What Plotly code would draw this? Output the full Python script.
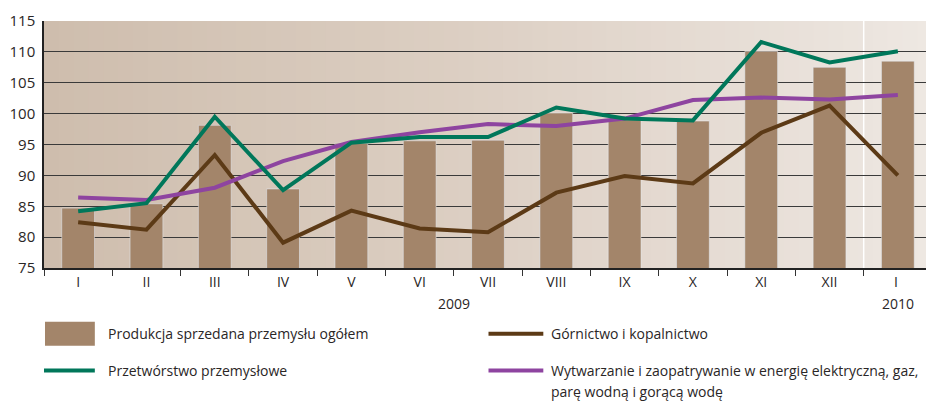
import plotly.graph_objects as go

months = ["I", "II", "III", "IV", "V", "VI", "VII", "VIII", "IX", "X", "XI", "XII", "I "]
years = ["2009", "2010"]
ogolem = [84.7, 85.4, 98.1, 87.8, 95.2, 95.6, 95.7, 100.1, 99.0, 98.8, 110.1, 107.5, 108.5]
przetworstwo = [84.2, 85.5, 99.5, 87.6, 95.3, 96.2, 96.2, 101.0, 99.2, 98.9, 111.6, 108.3, 110.1]
gornictwo = [82.4, 81.2, 93.3, 79.1, 84.3, 81.4, 80.8, 87.2, 89.9, 88.7, 96.9, 101.3, 90.0]
energia = [86.4, 86.0, 88.0, 92.3, 95.4, 97.0, 98.3, 98.0, 99.2, 102.2, 102.6, 102.3, 103.0]
names = ["Produkcja sprzedana przemysłu ogółem",
         "Przetwórstwo przemysłowe",
         "Górnictwo i kopalnictwo",
         "Wytwarzanie i zaopatrywanie w energię elektryczną, gaz,",
         "parę wodną i gorącą wodę"]

# page body has an 8px margin; figure is sized/positioned to compensate
OFF = 8
W, H = 934 - OFF, 401 - OFF
L, R, T, B = 41 - OFF, 2, 20 - OFF, 133
pw, ph = W - L - R, H - T - B

BAR = "#a3856a"
GREEN = "#00775a"
BROWN = "#5c3a16"
PURPLE = "#8e44a0"
TXT = "#2a2626"
FONT = "Open Sans"

def px(x):
    return (x - OFF - L) / pw

def py(y):
    return (H - B - (y - OFF)) / ph

fig = go.Figure()
fig.add_bar(x=months, y=ogolem, marker_color=BAR, width=0.48, name=names[0], showlegend=False)
fig.add_scatter(x=months, y=gornictwo, mode="lines", line=dict(color=BROWN, width=4), showlegend=False)
fig.add_scatter(x=months, y=energia, mode="lines", line=dict(color=PURPLE, width=4), showlegend=False)
fig.add_scatter(x=months, y=przetworstwo, mode="lines", line=dict(color=GREEN, width=4), showlegend=False)

shapes = []
# gradient background strips
stops = [(0.0, (206, 189, 173)), (0.5, (221, 208, 196)), (1.0, (238, 232, 227))]
n = 60
for i in range(n):
    t = (i + 0.5) / n
    if t <= 0.5:
        a, b, f = stops[0][1], stops[1][1], t / 0.5
    else:
        a, b, f = stops[1][1], stops[2][1], (t - 0.5) / 0.5
    c = tuple(round(u + (v - u) * f) for u, v in zip(a, b))
    shapes.append(dict(type="rect", xref="paper", yref="paper", x0=i / n, x1=(i + 1) / n + 0.002,
                       y0=0, y1=1, fillcolor="rgb(%d,%d,%d)" % c, line_width=0, layer="below"))
# year separator
shapes.append(dict(type="line", xref="x", yref="paper", x0=11.5, x1=11.5, y0=0, y1=1,
                   line=dict(color="white", width=1.5), layer="below"))

# legend
shapes.append(dict(type="rect", xref="paper", yref="paper", x0=px(42), x1=px(92), y0=py(346), y1=py(322),
                   fillcolor=BAR, line_width=0))
for (x0, x1, y, col) in [(41, 92, 371, GREEN), (487, 542, 334, BROWN), (487, 542, 371, PURPLE)]:
    shapes.append(dict(type="line", xref="paper", yref="paper", x0=px(x0), x1=px(x1), y0=py(y), y1=py(y),
                       line=dict(color=col, width=4)))

annotations = []
for (x, y, txt) in [(105, 334, names[0]), (105, 371, names[1]), (550, 334, names[2]),
                    (550, 371, names[3]), (550, 392, names[4])]:
    annotations.append(dict(xref="paper", yref="paper", x=px(x), y=py(y), text=txt, showarrow=False,
                            xanchor="left", yanchor="middle", xshift=-2,
                            align="left", font=dict(family=FONT, size=14, color=TXT)))
annotations.append(dict(xref="x", yref="paper", x=5.5, y=0, yshift=-35, text=years[0], showarrow=False,
                        yanchor="middle", font=dict(family=FONT, size=14, color=TXT)))
annotations.append(dict(xref="x", yref="paper", x=12, y=0, yshift=-35, text=years[1], showarrow=False,
                        yanchor="middle", font=dict(family=FONT, size=14, color=TXT)))

fig.update_layout(
    width=W, height=H,
    margin=dict(l=L, r=R, t=T, b=B),
    paper_bgcolor="white", plot_bgcolor="rgba(0,0,0,0)",
    shapes=shapes, annotations=annotations,
    showlegend=False,
    bargap=0.52,
    font=dict(family=FONT, size=14, color=TXT),
)
fig.update_xaxes(type="category", tickson="boundaries", ticks="outside", ticklen=6, tickcolor="#333",
                 showline=True, linecolor="#222", linewidth=1.5, showgrid=False,
                 tickfont=dict(family=FONT, size=14, color=TXT), range=[-0.5, 12.5])
fig.update_yaxes(range=[75, 115], dtick=5, tick0=75, showgrid=True, gridcolor="#3a3a3a", gridwidth=1,
                 showline=True, linecolor="#222", linewidth=1.5, zeroline=False, ticks="",
                 tickfont=dict(family=FONT, size=15, color=TXT), ticklabelstandoff=4)

fig.write_html("out.html")
